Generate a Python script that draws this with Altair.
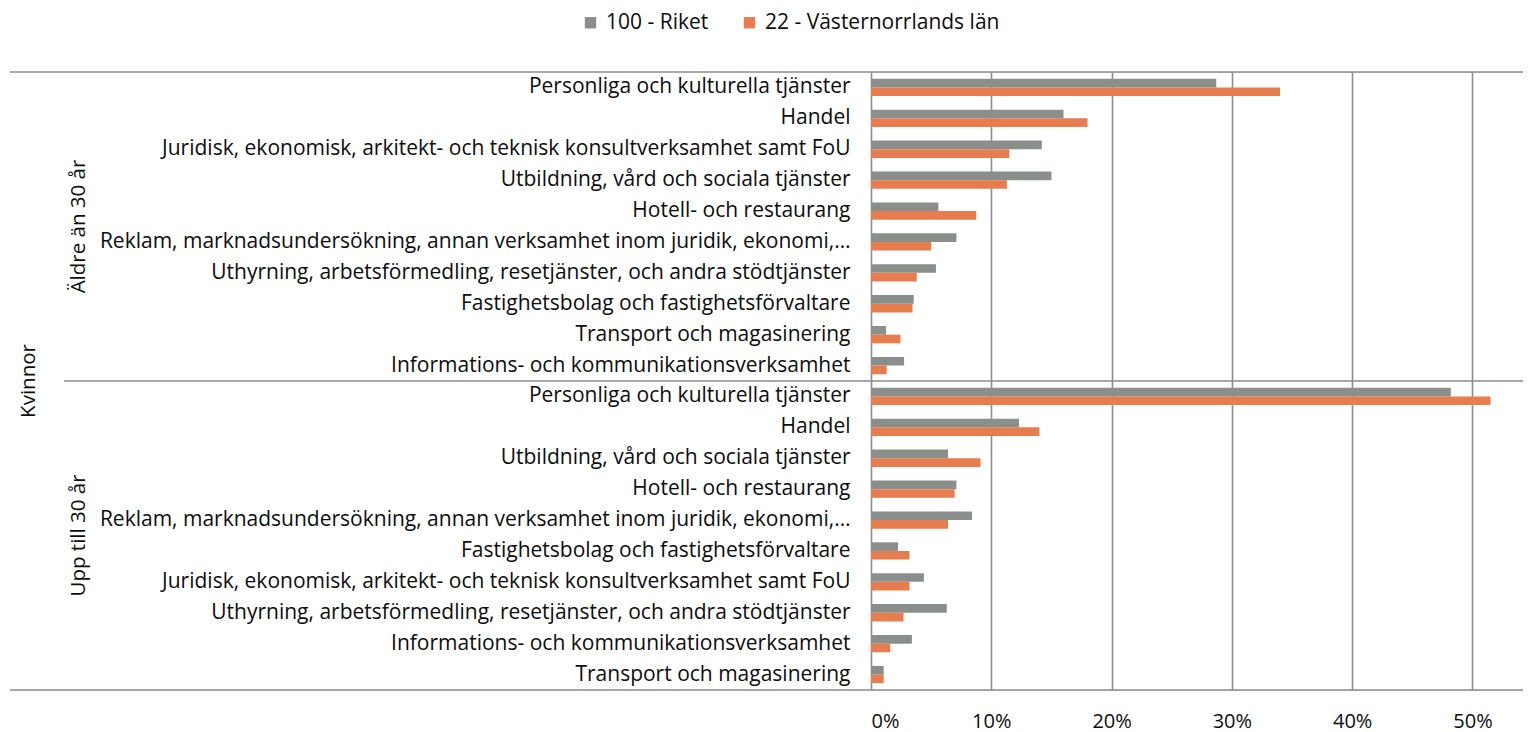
import altair as alt
import pandas as pd

series_names = ["100 - Riket", "22 - Västernorrlands län"]
series_colors = ["#8b8f8c", "#e77c4e"]

groups = ["Äldre än 30 år", "Upp till 30 år"]
top_label = "Kvinnor"

cats_older = [
    "Personliga och kulturella tjänster",
    "Handel",
    "Juridisk, ekonomisk, arkitekt- och teknisk konsultverksamhet samt FoU",
    "Utbildning, vård och sociala tjänster",
    "Hotell- och restaurang",
    "Reklam, marknadsundersökning, annan verksamhet inom juridik, ekonomi,…",
    "Uthyrning, arbetsförmedling, resetjänster, och andra stödtjänster",
    "Fastighetsbolag och fastighetsförvaltare",
    "Transport och magasinering",
    "Informations- och kommunikationsverksamhet",
]
riket_older = [0.287, 0.160, 0.142, 0.150, 0.056, 0.071, 0.054, 0.0355, 0.0125, 0.0275]
vn_older = [0.340, 0.180, 0.115, 0.113, 0.0875, 0.050, 0.038, 0.0345, 0.0245, 0.013]

cats_young = [
    "Personliga och kulturella tjänster",
    "Handel",
    "Utbildning, vård och sociala tjänster",
    "Hotell- och restaurang",
    "Reklam, marknadsundersökning, annan verksamhet inom juridik, ekonomi,…",
    "Fastighetsbolag och fastighetsförvaltare",
    "Juridisk, ekonomisk, arkitekt- och teknisk konsultverksamhet samt FoU",
    "Uthyrning, arbetsförmedling, resetjänster, och andra stödtjänster",
    "Informations- och kommunikationsverksamhet",
    "Transport och magasinering",
]
riket_young = [0.482, 0.123, 0.064, 0.071, 0.084, 0.0225, 0.044, 0.063, 0.034, 0.0105]
vn_young = [0.515, 0.140, 0.091, 0.0695, 0.064, 0.032, 0.032, 0.027, 0.016, 0.0105]

x_ticks = [0, 0.1, 0.2, 0.3, 0.4, 0.5]

rows = []
keys = []
for g, cats, r_vals, v_vals in [
    (groups[0], cats_older, riket_older, vn_older),
    (groups[1], cats_young, riket_young, vn_young),
]:
    for c, r, v in zip(cats, r_vals, v_vals):
        k = f"{g}|{c}"
        keys.append(k)
        rows.append({"key": k, "series": series_names[0], "value": r})
        rows.append({"key": k, "series": series_names[1], "value": v})
df = pd.DataFrame(rows)

W, H = 652, 618

font = "Open Sans"
grid_color = "#8c8c8c"
text_color = "#0d0d0d"

y_scale = alt.Scale(paddingInner=0, paddingOuter=0)

bars = alt.Chart(df).mark_bar().encode(
    x=alt.X(
        "value:Q",
        scale=alt.Scale(domain=[0, 0.542], nice=False, zero=True),
        axis=alt.Axis(
            values=x_ticks, format="%", grid=True, gridColor=grid_color, gridWidth=1.6,
            domain=False, ticks=False, labelFontSize=20, labelFont=font,
            labelColor=text_color, labelPadding=21, title=None,
        ),
    ),
    y=alt.Y(
        "key:N", sort=keys, scale=y_scale,
        axis=alt.Axis(
            labelExpr="split(datum.label, '|')[1]", ticks=False, domain=False, grid=False,
            labelPadding=21, labelFontSize=21, labelFont=font, labelColor=text_color,
            labelLimit=1000, title=None,
        ),
    ),
    yOffset=alt.YOffset(
        "series:N", sort=series_names,
        scale=alt.Scale(paddingInner=0, paddingOuter=0.786),
    ),
    color=alt.Color(
        "series:N",
        scale=alt.Scale(domain=series_names, range=series_colors),
        legend=alt.Legend(
            orient="none", legendX=-291, legendY=-60, direction="horizontal", title=None,
            symbolType="square", symbolSize=130, symbolStrokeWidth=0, labelOffset=5,
            labelFontSize=21, labelFont=font, labelColor=text_color, labelLimit=500,
            columnPadding=30,
        ),
    ),
)

# group / top level labels anchored to the category scale (band start = boundary)
lab_df = pd.DataFrame([
    {"key": keys[5], "text": groups[0], "lvl": 1},
    {"key": keys[15], "text": groups[1], "lvl": 1},
    {"key": keys[10], "text": top_label, "lvl": 0},
])
lvl1 = alt.Chart(lab_df[lab_df.lvl == 1]).mark_text(
    angle=270, fontSize=20.5, font=font, color=text_color, align="center", baseline="middle"
).encode(
    y=alt.Y("key:N", sort=keys, bandPosition=0),
    x=alt.value(-792),
    text="text:N",
)
lvl0 = alt.Chart(lab_df[lab_df.lvl == 0]).mark_text(
    angle=270, fontSize=20.5, font=font, color=text_color, align="center", baseline="middle"
).encode(
    y=alt.Y("key:N", sort=keys, bandPosition=0),
    x=alt.value(-842),
    text="text:N",
)

sep_df = pd.DataFrame([{"key": keys[10]}])
sep = alt.Chart(sep_df).mark_rule(color=grid_color, strokeWidth=1.6).encode(
    y=alt.Y("key:N", sort=keys, bandPosition=0),
    x=alt.value(-807),
    x2=alt.value(W),
)

edge_df = pd.DataFrame([{"edge": "top"}])
top_line = alt.Chart(edge_df).mark_rule(color=grid_color, strokeWidth=1.6).encode(
    y=alt.value(0), x=alt.value(-861), x2=alt.value(W)
)
bottom_line = alt.Chart(edge_df).mark_rule(color=grid_color, strokeWidth=1.6).encode(
    y=alt.value(H), x=alt.value(-861), x2=alt.value(W)
)

chart = alt.layer(bars, sep, top_line, bottom_line, lvl1, lvl0).properties(
    width=W, height=H,
    autosize=alt.AutoSizeParams(type="none"),
    padding={"left": 863, "top": 64, "right": 0, "bottom": 48},
).configure_view(stroke=None).configure(background="white")

chart.save("out.html", embed_options={"renderer": "svg", "actions": False})
